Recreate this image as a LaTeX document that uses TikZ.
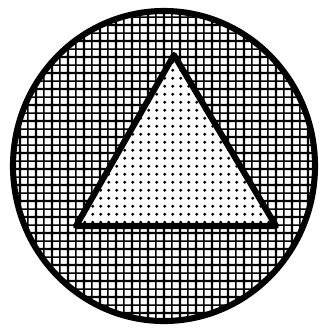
\documentclass[tikz,border=0pt]{standalone}
\usepackage{tikz}
\usetikzlibrary{patterns,patterns.meta}

% plaid grid for the disc
\tikzdeclarepattern{
  name=plaidgrid,
  type=uncolored,
  bounding box={(0,0) and (7pt,7pt)},
  tile size={(7pt,7pt)},
  code={
    \draw[line width=1pt] (0,1.75pt) -- (7pt,1.75pt) (1.75pt,0) -- (1.75pt,7pt);
    \draw[line width=0.6pt] (0,5.25pt) -- (7pt,5.25pt) (5.25pt,0) -- (5.25pt,7pt);
  }
}
% fine stipple for the triangle
\tikzdeclarepattern{
  name=stipple,
  type=uncolored,
  bounding box={(0,0) and (3.5pt,3.5pt)},
  tile size={(3.5pt,3.5pt)},
  code={
    \fill (1.75pt,1.75pt) circle (0.75pt);
  }
}

\begin{document}
\begin{tikzpicture}[x=0.015cm,y=-0.015cm,
    disc/.style={line width=2.6pt, pattern=plaidgrid},
    pyramid/.style={line width=2.6pt, line join=round,
      preaction={fill=white}, pattern=stipple}]
    \useasboundingbox (0,0) rectangle (325,332);

    % Outer disc
    \draw[disc] (164,166) ellipse (151 and 155);

    % Triangle inside
    \coordinate (apex) at (174,55);
    \coordinate (left) at (76,226);
    \coordinate (right) at (276,226);
    \draw[pyramid] (apex) -- (left) -- (right) -- cycle;
\end{tikzpicture}
\end{document}
